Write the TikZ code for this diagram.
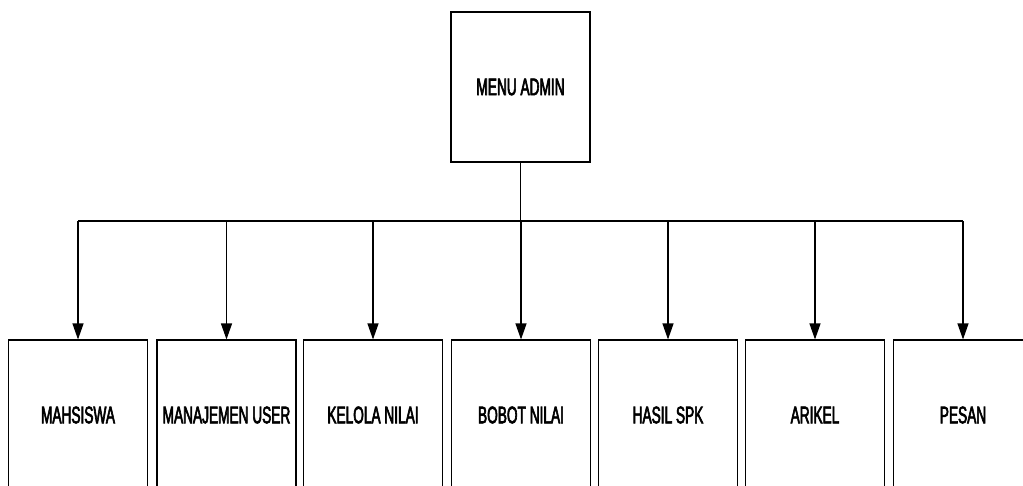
\documentclass[tikz,border=0pt]{standalone}
\usepackage{fontspec}
\setmainfont{Liberation Sans}[FakeStretch=0.57,FakeBold=2.5]
\usetikzlibrary{arrows.meta}
\tikzset{
  box/.style={draw=black, line width=1.1pt, rectangle, minimum width=139pt, minimum height=150pt,
    inner sep=0pt, font=\fontsize{24}{24}\selectfont},
  link/.style={draw=black, line width=1.1pt},
  arrowlink/.style={link, -{Triangle[length=16pt,width=11pt]}}
}
\begin{document}
\begin{tikzpicture}[x=1pt,y=-1pt]
\useasboundingbox (0,0) rectangle (1023,485);
\fill[white] (0,0) rectangle (1023,485);
\clip (0,0) rectangle (1023,485);
\node[box] (top) at (520.5,87) {MENU ADMIN};
\node[box] (b1) at (78,415) {MAHSISWA};
\node[box] (b2) at (226.5,415) {MANAJEMEN USER};
\node[box] (b3) at (373,415) {KELOLA NILAI};
\node[box] (b4) at (521,415) {BOBOT NILAI};
\node[box] (b5) at (668,415) {HASIL SPK};
\node[box] (b6) at (815,415) {ARIKEL};
\node[box] (b7) at (963,415) {PESAN};
\coordinate (bus) at (520.5,221);
\draw[link] (top.south) -- (top.south |- bus);
\draw[link] (b1.north |- bus) -- (b7.north |- bus);
\foreach \b in {b1,b2,b3,b4,b5,b6,b7}{
  \draw[arrowlink] (\b.north |- bus) -- (\b.north);
}
\end{tikzpicture}
\end{document}
